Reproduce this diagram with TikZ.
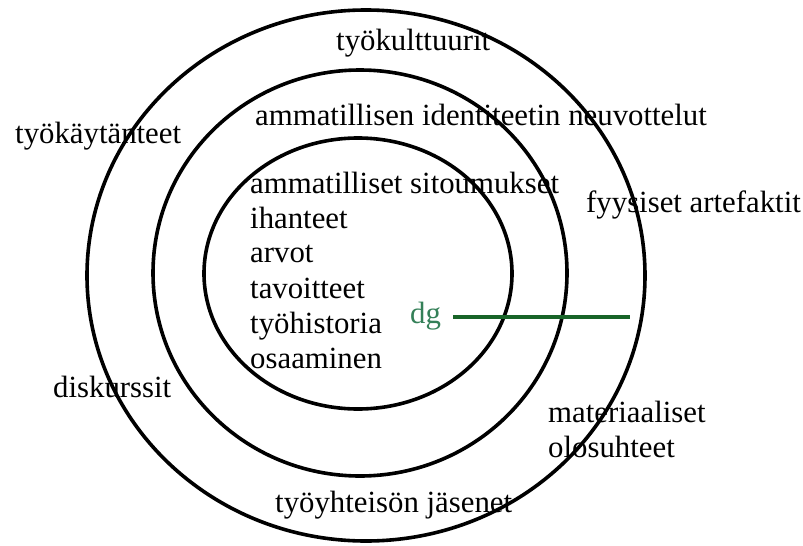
\documentclass[tikz,border=0pt]{standalone}
\usepackage{fontspec}
\setmainfont{Liberation Serif}
\definecolor{lineblack}{RGB}{0,0,0}
\definecolor{dglabel}{RGB}{52,128,88}
\definecolor{dgline}{RGB}{24,100,40}
\begin{document}
\begin{tikzpicture}[x=1pt,y=-1pt,
  ring/.style={draw=lineblack,line width=3.6pt},
  lbl/.style={anchor=base west,inner sep=0pt,font=\fontsize{30.8}{35}\selectfont},
  greenlbl/.style={lbl,text=dglabel},
  greenline/.style={draw=dgline,line width=3.5pt}]
\useasboundingbox (0,0) rectangle (803,546);
\fill[white] (0,0) rectangle (803,546);
% rings
\draw[ring] (366,275.5) ellipse [x radius=279pt, y radius=265.5pt];
\draw[ring] (360,273) ellipse [x radius=207pt, y radius=203pt];
\draw[ring] (358,273.5) ellipse [x radius=154pt, y radius=135.5pt];
% labels
\node[lbl] (kulttuuri) at (336,50) {työkulttuurit};
\node[lbl] (kaytanteet) at (15,143) {työkäytänteet};
\node[lbl] (neuvottelut) at (255,125) {ammatillisen identiteetin neuvottelut};
\node[lbl] (artefaktit) at (586,212) {fyysiset artefaktit};
\node[lbl] (sitoumukset) at (250,193) {ammatilliset sitoumukset};
\node[lbl] (ihanteet) at (250,228) {ihanteet};
\node[lbl] (arvot) at (250,262) {arvot};
\node[lbl] (tavoitteet) at (250,298) {tavoitteet};
\node[lbl] (historia) at (250,333) {työhistoria};
\node[lbl] (osaaminen) at (250,368) {osaaminen};
\node[lbl] (diskurssit) at (53,397) {diskurssit};
\node[lbl] (materiaaliset) at (548,422) {materiaaliset};
\node[lbl] (olosuhteet) at (548,457) {olosuhteet};
\node[lbl] (jasenet) at (275,512) {työyhteisön jäsenet};
\node[greenlbl] (dg) at (410,323) {dg};
\coordinate (gA) at (453,317);
\coordinate (gB) at (630,317);
\draw[greenline] (gA) -- (gB);
\end{tikzpicture}
\end{document}
